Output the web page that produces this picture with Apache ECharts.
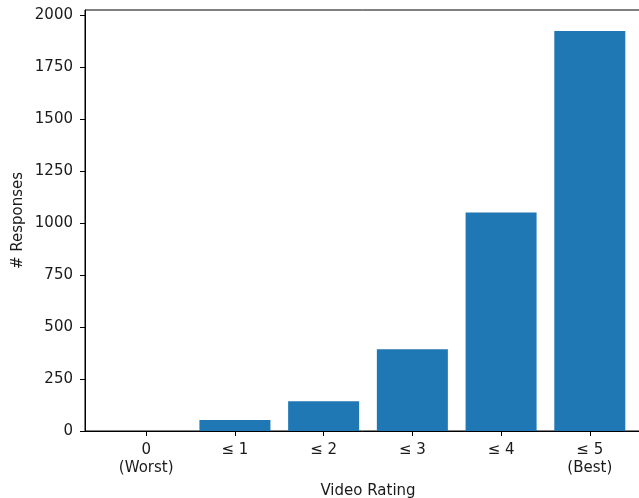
<!DOCTYPE html>
<html>
<head>
<meta charset="utf-8">
<script src="https://cdn.jsdelivr.net/npm/echarts@6/dist/echarts.min.js"></script>
<style>html,body{margin:0;padding:0;background:#fff}#c{width:639px;height:498px}</style>
</head>
<body>
<div id="c"></div>
<script>
const categories = ['0\n(Worst)', '≤ 1', '≤ 2', '≤ 3', '≤ 4', '≤ 5\n(Best)'];
const responses = [0, 53, 143, 394, 1052, 1925];
const yTicks = [0, 250, 500, 750, 1000, 1250, 1500, 1750, 2000];
const xTicks = [0, 1, 2, 3, 4, 5];

const chart = echarts.init(document.getElementById('c'), null, {renderer: 'canvas'});
const font = 'DejaVu Sans';
const txt = '#1a1a1a';
chart.setOption({
  animation: false,
  textStyle: {fontFamily: font},
  grid: {left: 85, right: -12, top: 10, bottom: 67, outerBoundsMode: 'none', containLabel: false,
    show: true, borderColor: '#000', borderWidth: 1, backgroundColor: 'transparent'},
  xAxis: {
    type: 'value', min: -0.69, max: 5.69,
    name: 'Video Rating', nameLocation: 'middle', nameGap: 53,
    nameTextStyle: {fontSize: 15, color: txt, fontFamily: font},
    axisLine: {show: true, onZero: false, lineStyle: {color: '#000', width: 1}},
    axisTick: {show: true, customValues: xTicks, length: 5, lineStyle: {color: '#000'}},
    axisLabel: {customValues: xTicks, fontSize: 15, color: txt, margin: 10, lineHeight: 18, fontFamily: font,
      formatter: v => categories[Math.round(v)]},
    splitLine: {show: false}
  },
  yAxis: {
    type: 'value', min: 0, max: 2026,
    name: '# Responses', nameLocation: 'middle', nameGap: 59, nameRotate: 90, nameMoveOverlap: false,
    nameTextStyle: {fontSize: 15, color: txt, fontFamily: font},
    axisLine: {show: true, onZero: false, lineStyle: {color: '#000', width: 1}},
    axisTick: {show: true, customValues: yTicks, length: 5, lineStyle: {color: '#000'}},
    axisLabel: {customValues: yTicks, fontSize: 15, color: txt, margin: 12, fontFamily: font,
      formatter: v => String(v)},
    splitLine: {show: false}
  },
  series: [{
    type: 'bar',
    data: responses.map((v, i) => [i, v]),
    barWidth: 71,
    itemStyle: {color: '#1f77b4'}
  }]
});
</script>
</body>
</html>
